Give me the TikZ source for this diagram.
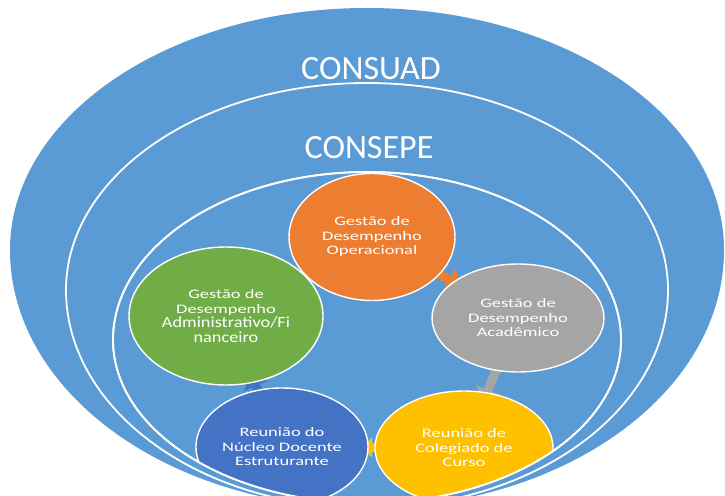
\documentclass[tikz,border=0pt]{standalone}
\usepackage{fontspec}
\setmainfont{Carlito}
\usepackage{graphicx}
\usetikzlibrary{shapes.geometric,arrows.meta,calc}

\definecolor{shellblue}{HTML}{5B9BD5}
\definecolor{nodeorange}{HTML}{ED7D31}
\definecolor{nodegray}{HTML}{A5A5A5}
\definecolor{nodegreen}{HTML}{70AD47}
\definecolor{nodeblue}{HTML}{4472C4}
\definecolor{nodeyellow}{HTML}{FFC000}

\pgfdeclarelayer{back}
\pgfdeclarelayer{mid}
\pgfdeclarelayer{front}
\pgfsetlayers{back,mid,main,front}

% horizontally widened text lines
\newcommand\sx[1]{\scalebox{1.42}[1]{#1}}
\newcommand\wideline[1]{{\fontsize{15.5}{14.5}\selectfont\scalebox{1.18}[1]{#1}}}
% egg outline: centre x, centre y, half width, upper half height, lower half height
\newcommand\egg[5]{({#1-#3},#2) arc[start angle=180,end angle=0,x radius=#3,y radius=#4] arc[start angle=0,end angle=-180,x radius=#3,y radius=#5] -- cycle}

\begin{document}
\begin{tikzpicture}[x=1pt,y=1pt,
  nodecirc/.style={ellipse, draw=white, line width=1.4pt, text=white, align=center,
    inner sep=0pt, font=\fontsize{13}{14.5}\selectfont},
  title/.style={text=white, font=\fontsize{34}{40}\selectfont, inner sep=0pt},
  cycarrow/.style={line width=9pt, -{Triangle[length=12pt,width=26pt]}},
  rim/.style={draw=white, line width=1.8pt}]
\useasboundingbox (0,0) rectangle (725,495);

% nested shells
\begin{pgfonlayer}{back}
  \fill[shellblue] \egg{367}{245}{357}{242}{258};
  \filldraw[fill=shellblue, rim] \egg{367}{205}{301}{207}{218};
  \filldraw[fill=shellblue, rim] \egg{367}{155}{254}{168}{163};
\end{pgfonlayer}

\node[title] (consuad) at (371,426) {CONSUAD};
\node[title] (consepe) at (369,347) {CONSEPE};

% cycle of management stages
\begin{scope}
  \clip \egg{367}{155}{254}{168}{163};
  \node[nodecirc, fill=nodeorange, minimum width=166pt, minimum height=127pt] (op) at (372,258)
    {\sx{Gestão de}\\\sx{Desempenho}\\\sx{Operacional}};
  \node[nodecirc, fill=nodegray, minimum width=172pt, minimum height=108pt] (ga) at (518,177)
    {\sx{Gestão de}\\\sx{Desempenho}\\\sx{Acadêmico}};
  \node[nodecirc, fill=nodeyellow, minimum width=178pt, minimum height=114pt] (cc) at (464,47)
    {\sx{Reunião de}\\\sx{Colegiado de}\\\sx{Curso}};
  \node[nodecirc, fill=nodeblue, minimum width=172pt, minimum height=118pt] (nde) at (282,48)
    {\sx{Reunião do}\\\sx{Núcleo Docente}\\\sx{Estruturante}};
  \node[nodecirc, fill=nodegreen, minimum width=194pt, minimum height=138pt] (gf) at (226,179)
    {\sx{Gestão de}\\\sx{Desempenho}\\\wideline{Administrativo/Fi}\\\wideline{nanceiro}};
\end{scope}

% arrows between the stages, partly hidden behind them
\begin{pgfonlayer}{mid}
  \draw[cycarrow, nodeorange] ($(op.center)!0.40!(ga.center)$) -- ($(op.center)!0.60!(ga.center)$);
  \draw[cycarrow, nodegray] ($(ga.center)!0.30!(cc.center)$) -- ($(ga.center)!0.64!(cc.center)$);
  \draw[cycarrow, nodeyellow, -{Triangle[length=10pt,width=20pt]}] ($(cc.center)!0.30!(nde.center)$) -- ($(cc.center)!0.56!(nde.center)$);
  \draw[cycarrow, nodeblue] ($(nde.center)!0.30!(gf.center)$) -- ($(nde.center)!0.55!(gf.center)$);
\end{pgfonlayer}

\begin{pgfonlayer}{front}
  \draw[rim] \egg{367}{155}{254}{168}{163};
\end{pgfonlayer}
\end{tikzpicture}
\end{document}
